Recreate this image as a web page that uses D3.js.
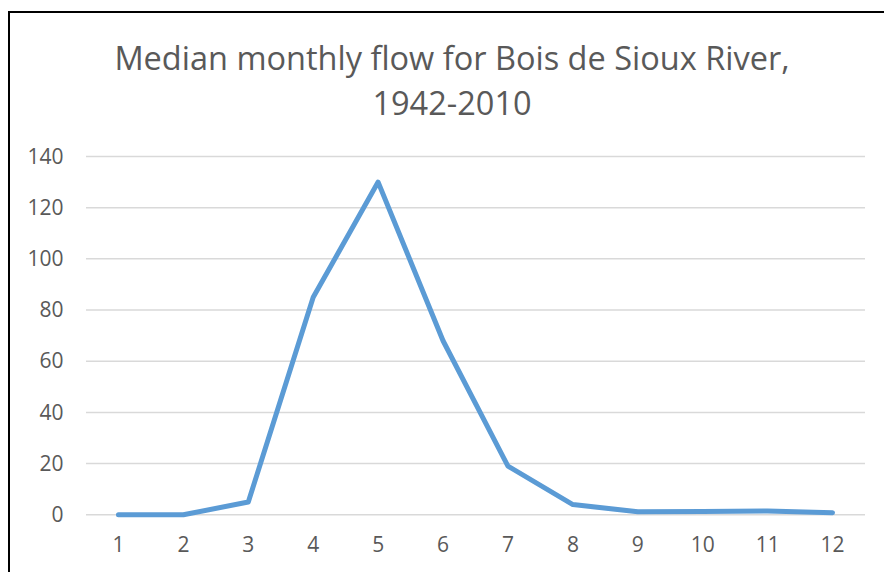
<!DOCTYPE html>
<html>
<head>
<meta charset="utf-8">
<script src="https://cdn.jsdelivr.net/npm/d3@7"></script>
<style>
  html, body { margin: 0; padding: 0; background: #fff; }
  svg { display: block; }
  text { font-family: "Open Sans", "Liberation Sans", sans-serif; fill: #595959; }
</style>
</head>
<body>
<div id="chart"></div>
<script>
// Median monthly flow, Bois de Sioux River, 1942-2010
const months = ["1", "2", "3", "4", "5", "6", "7", "8", "9", "10", "11", "12"];
const medianFlow = [0, 0, 5, 85, 130, 68, 19, 4, 1.2, 1.3, 1.5, 0.8];
const yTicks = [0, 20, 40, 60, 80, 100, 120, 140];
const titleLines = ["Median monthly flow for Bois de Sioux River,", "1942-2010"];

const W = 884, H = 572;
const plot = { left: 86, right: 865, top: 156.5, bottom: 514.8 };

const svg = d3.select("#chart").append("svg")
  .attr("width", W).attr("height", H);

// chart frame
svg.append("rect")
  .attr("x", 9).attr("y", 12)
  .attr("width", 890).attr("height", 600)
  .attr("fill", "none")
  .attr("stroke", "#000")
  .attr("stroke-width", 2);

const x = d3.scaleBand().domain(months).range([plot.left, plot.right]);
const y = d3.scaleLinear().domain([0, 140]).range([plot.bottom, plot.top]);

// horizontal gridlines
svg.append("g")
  .selectAll("line")
  .data(yTicks)
  .join("line")
  .attr("x1", plot.left).attr("x2", plot.right)
  .attr("y1", d => y(d)).attr("y2", d => y(d))
  .attr("stroke", "#d9d9d9")
  .attr("stroke-width", 1.5);

const labelFont = "\"Open Sans\", sans-serif";

// y axis labels
const yAxis = d3.axisLeft(y).tickValues(yTicks).tickSize(0).tickPadding(0);
const gy = svg.append("g").attr("transform", `translate(63.5,0)`).call(yAxis);
gy.select(".domain").remove();
gy.selectAll("text")
  .attr("font-size", 21)
  .attr("fill", "#595959")
  .style("font-family", labelFont);

// x axis labels
const xAxis = d3.axisBottom(x).tickSize(0).tickPadding(0);
const gx = svg.append("g").attr("transform", `translate(0,537.5)`).call(xAxis);
gx.select(".domain").remove();
gx.selectAll("text")
  .attr("font-size", 21)
  .attr("fill", "#595959")
  .style("font-family", labelFont);

// flow line
const line = d3.line()
  .x((d, i) => x(months[i]) + x.bandwidth() / 2)
  .y(d => y(d));

svg.append("path")
  .datum(medianFlow)
  .attr("d", line)
  .attr("fill", "none")
  .attr("stroke", "#5b9bd5")
  .attr("stroke-width", 5)
  .attr("stroke-linejoin", "round")
  .attr("stroke-linecap", "round");

// title
svg.append("g")
  .selectAll("text")
  .data(titleLines)
  .join("text")
  .attr("x", 452)
  .attr("y", (d, i) => 70 + i * 45)
  .attr("text-anchor", "middle")
  .attr("font-size", 32.5)
  .attr("fill", "#595959")
  .text(d => d);
</script>
</body>
</html>
